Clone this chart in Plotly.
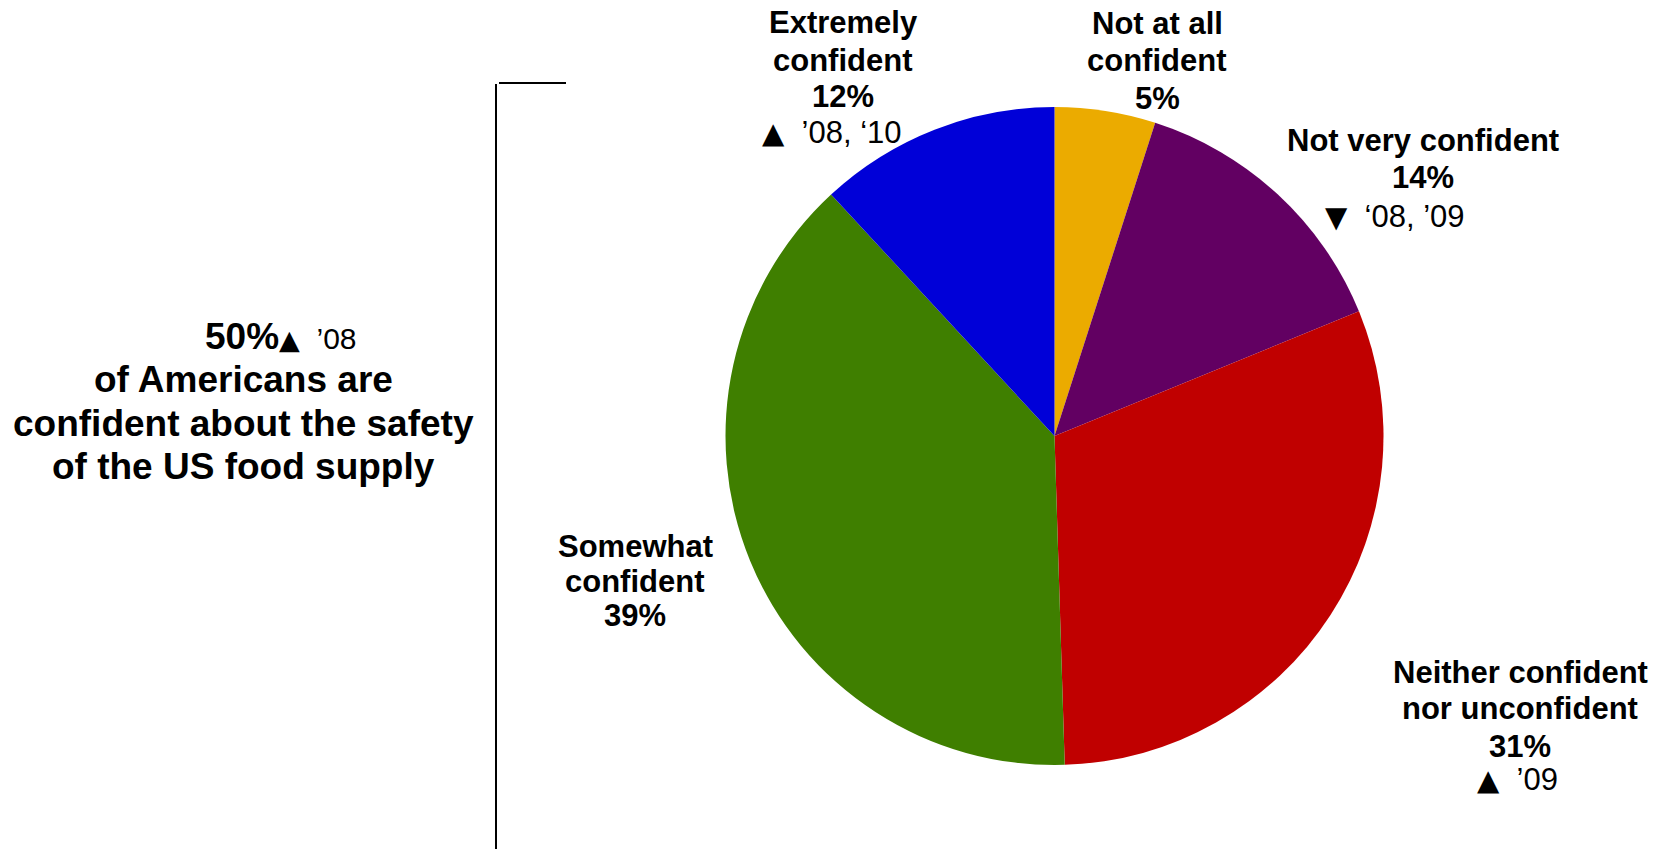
import plotly.graph_objects as go

W, H = 1662, 849

# Survey shares, clockwise from 12 o'clock
categories = ["Not at all confident", "Not very confident",
              "Neither confident nor unconfident", "Somewhat confident",
              "Extremely confident"]
shares = [5, 14, 31, 39, 12]
colors = ["#EBAB00", "#620062", "#C00000", "#3F7F00", "#0000D8"]

# Slice label lines: (bold lines, trend arrow, trend years)
label_lines = {
    "Extremely confident": (["Extremely", "confident", "12%"], "▲", "’08, ‘10"),
    "Not at all confident": (["Not at all", "confident", "5%"], None, None),
    "Not very confident": (["Not very confident", "14%"], "▼", "‘08, ’09"),
    "Neither confident nor unconfident": (["Neither confident", "nor unconfident", "31%"], "▲", "’09"),
    "Somewhat confident": (["Somewhat", "confident", "39%"], None, None),
}
# Label placement in pixels: (x centre, y centre of each line)
label_pos = {
    "Extremely confident": (843, [23, 60, 96, 132]),
    "Not at all confident": (1157, [24, 61, 98]),
    "Not very confident": (1423, [141, 178, 216]),
    "Neither confident nor unconfident": (1520, [672, 708, 746, 779]),
    "Somewhat confident": (635, [546, 581, 615]),
}
trend_x = {"Extremely confident": 832, "Not very confident": 1395,
           "Neither confident nor unconfident": 1517}

summary_share = "50%"
summary_arrow = "▲"
summary_years = "’08"
summary_lines = ["of Americans are", "confident about the safety", "of the US food supply"]

FONT = "Liberation Sans, Arial, DejaVu Sans, sans-serif"
ARROW_FONT = "DejaVu Sans"

# Pie geometry in pixels
cx, cy, r = 1054.5, 436, 329

fig = go.Figure(go.Pie(
    labels=categories,
    values=shares,
    sort=False,
    direction="clockwise",
    rotation=0,
    marker=dict(colors=colors, line=dict(width=0)),
    textinfo="none",
    hoverinfo="label+percent",
    showlegend=False,
    domain=dict(x=[(cx - r) / W, (cx + r) / W], y=[1 - (cy + r) / H, 1 - (cy - r) / H]),
))


def px(x):
    return x / W


def py(y):
    return 1 - y / H


def arrow(sym, size):
    return f"<span style='font-family:{ARROW_FONT};font-size:{size}px'>{sym}</span>"


annotations = []
for cat in categories:
    bold, sym, years = label_lines[cat]
    x0, ys = label_pos[cat]
    for text, y in zip(bold, ys):
        annotations.append(dict(text=f"<b>{text}</b>", x=px(x0), y=py(y),
                                font=dict(size=31, family=FONT, color="black")))
    if sym:
        annotations.append(dict(text=arrow(sym, 29) + "\u00a0\u00a0" + years,
                                x=px(trend_x.get(cat, x0)), y=py(ys[len(bold)]),
                                font=dict(size=31, family=FONT, color="black")))

# Summary block on the left
annotations.append(dict(
    text=f"<b>{summary_share}</b>{arrow(summary_arrow, 27)}"
         f"<span style='font-size:30px'>\u00a0\u00a0{summary_years}</span>",
    x=px(281), y=py(337), font=dict(size=37, family=FONT, color="black")))
for text, y in zip(summary_lines, [379, 423, 466]):
    annotations.append(dict(text=f"<b>{text}</b>", x=px(243), y=py(y),
                            font=dict(size=37, family=FONT, color="black")))

for a in annotations:
    a.update(xref="paper", yref="paper", xanchor="center", yanchor="middle", showarrow=False)

shapes = [
    dict(type="line", xref="paper", yref="paper", x0=px(496), x1=px(496), y0=py(84), y1=py(849),
         line=dict(color="black", width=2)),
    dict(type="line", xref="paper", yref="paper", x0=px(499), x1=px(566), y0=py(83), y1=py(83),
         line=dict(color="black", width=2)),
]

fig.update_layout(
    width=W, height=H,
    margin=dict(l=0, r=0, t=0, b=0),
    paper_bgcolor="white", plot_bgcolor="white",
    annotations=annotations, shapes=shapes,
)

fig.write_html("out.html")
